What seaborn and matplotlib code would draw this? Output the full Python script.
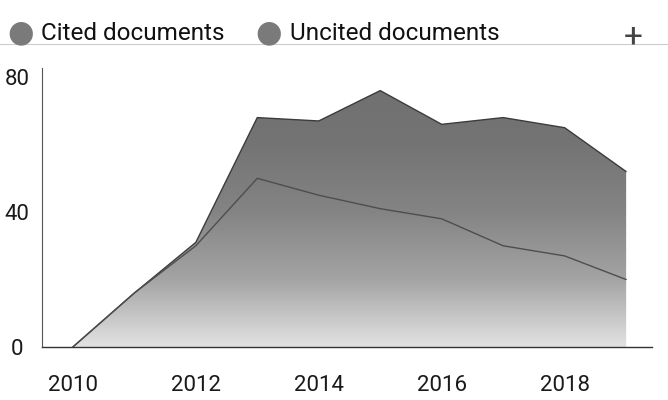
import numpy as np
import pandas as pd
import matplotlib
matplotlib.use("Agg")
import matplotlib.pyplot as plt
import seaborn as sns
from matplotlib.patches import Polygon

years = [2010, 2011, 2012, 2013, 2014, 2015, 2016, 2017, 2018, 2019]
cited = [0, 16, 30, 50, 45, 41, 38, 30, 27, 20]
uncited = [0, 0, 1, 18, 22, 35, 28, 38, 38, 32]
series_labels = ["Cited documents", "Uncited documents"]
x_ticks = [2010, 2012, 2014, 2016, 2018]
y_ticks = [0, 40, 80]

sns.set_style("white")
plt.rcParams['font.family'] = ['Roboto', 'DejaVu Sans']

df = pd.DataFrame({"year": years, "cited": cited, "uncited": uncited})
df["total"] = df["cited"] + df["uncited"]

fig = plt.figure(figsize=(6.68, 4.0), dpi=100)
ax = fig.add_axes([0.063, 0.1325, 0.913, 0.6975])

# gradient fill clipped to the stacked area
poly_pts = list(zip(df["year"], df["total"])) + [(years[-1], 0), (years[0], 0)]
poly = Polygon(poly_pts, closed=True, facecolor="none", edgecolor="none")
ax.add_patch(poly)
grad = np.linspace(0, 1, 256).reshape(-1, 1)
cmap = matplotlib.colors.LinearSegmentedColormap.from_list(
    "g", ["#e2e2e2", "#a4a4a4", "#848484", "#747474", "#707070"])
im = ax.imshow(grad, extent=[years[0], years[-1], 0, 80], origin="lower", cmap=cmap,
               aspect="auto", zorder=1)
im.set_clip_path(poly)

sns.lineplot(data=df, x="year", y="total", ax=ax, color="#3c3c3c", linewidth=1.0, zorder=3)
sns.lineplot(data=df, x="year", y="cited", ax=ax, color="#4e4e4e", linewidth=1.0, zorder=3)
ax.set_xlim(2009.5, 2019.42)
ax.set_ylim(0, 82.7)

ax.set_xlabel("")
ax.set_ylabel("")
ax.set_xticks(x_ticks)
ax.set_xticklabels([str(t) for t in x_ticks], fontsize=16, color="#1a1a1a")
ax.set_yticks(y_ticks)
ax.set_yticklabels([str(t) for t in y_ticks], fontsize=16, color="#1a1a1a")
for lab in ax.get_yticklabels():
    lab.set_horizontalalignment("center")
ax.tick_params(axis="x", length=0, pad=20)
ax.tick_params(axis="y", length=0, pad=18)

for s in ["top", "right"]:
    ax.spines[s].set_visible(False)
ax.spines["left"].set_color("#555555")
ax.spines["bottom"].set_color("#333333")
ax.spines["left"].set_linewidth(0.8)
ax.spines["bottom"].set_linewidth(1.0)

# legend
fig.text(0.0115, 0.917, "\u25CF", fontsize=22, color="#7a7a7a", va="center", ha="left")
fig.text(0.061, 0.917, series_labels[0], fontsize=17.5, color="#111111", va="center", ha="left")
fig.text(0.382, 0.917, "\u25CF", fontsize=22, color="#7a7a7a", va="center", ha="left")
fig.text(0.434, 0.917, series_labels[1], fontsize=17.5, color="#111111", va="center", ha="left")
fig.text(0.948, 0.905, "+", fontsize=24, color="#444444", va="center", ha="center")
fig.add_artist(plt.Line2D([0.0, 1.0], [0.89, 0.89], color="#cccccc", linewidth=0.8))

fig.savefig("out.png", dpi=100)
